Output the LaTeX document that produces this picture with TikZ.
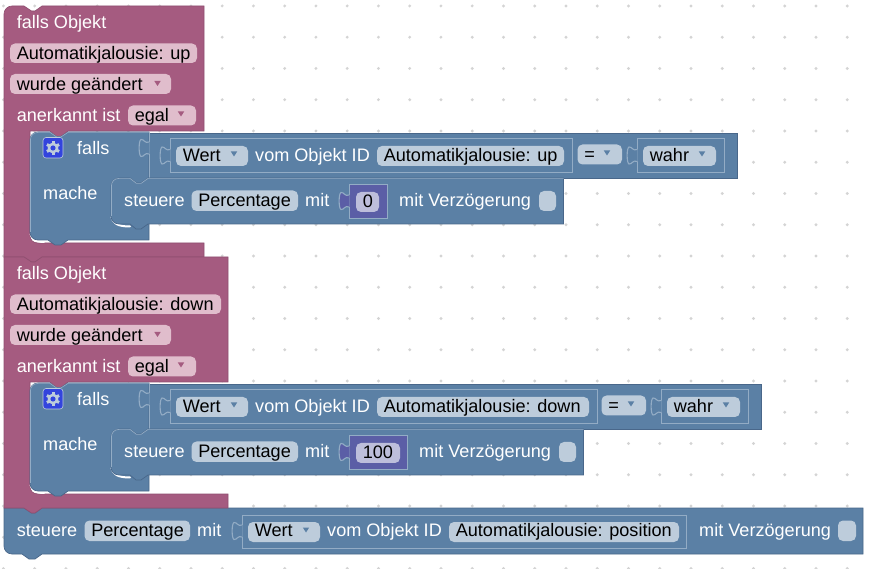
\documentclass[tikz,border=0pt]{standalone}
\usepackage{fontspec}
\setmainfont{Liberation Sans}
\definecolor{pinkB}{HTML}{A55B80}
\definecolor{pinkP}{HTML}{E0BDCC}
\definecolor{pinkE}{HTML}{8F4F70}
\definecolor{blueB}{HTML}{5B80A5}
\definecolor{blueP}{HTML}{BDCCDB}
\definecolor{blueE}{HTML}{49678A}
\definecolor{blueL}{HTML}{93ACC5}
\definecolor{numB}{HTML}{5B5EA6}
\definecolor{numP}{HTML}{BDBEDB}
\definecolor{gearB}{HTML}{3344DD}
\definecolor{dotC}{HTML}{D4D4D4}
\tikzset{
  lbl/.style={anchor=base west,inner sep=0pt,text=white,font=\fontsize{18.1}{20}\selectfont},
  ftxt/.style={anchor=base west,inner sep=0pt,text=black,font=\fontsize{18.1}{20}\selectfont},
  pinkbody/.style={fill=pinkB,draw=pinkE,line width=0.6pt},
  bluebody/.style={fill=blueB,draw=blueE,line width=0.7pt},
  valblock/.style={draw=blueL,fill=blueB,line width=1pt},
  crescent/.style={white,line width=2pt,line cap=round},
  hilite/.style={blueL,line width=0.7pt},
}
% name, x, baseline, text
\newcommand{\Lbl}[4]{\node[lbl] (#1) at (#2,#3) {#4};}
% pill fill, name, x0, x1, y0, y1, baseline, text
\newcommand{\Fld}[8]{\fill[#1,rounded corners=5pt] (#3,#5) rectangle (#4,#6);
  \node[ftxt] (#2) at (#3+6.6,#7) {#8};}
% triangle: colour, cx, cy
\newcommand{\Tri}[3]{\fill[#1] (#2-3.2,#3-2.5) -- (#2+3.2,#3-2.5) -- (#2,#3+2.5) -- cycle;}
% input tab: fill, x, y
\newcommand{\TabIn}[3]{\fill[#1] (#2+0.5,#3+3) .. controls (#2-4,#3+5) and (#2-5,#3) .. (#2-8,#3+0.5) .. controls (#2-10.5,#3+1.5) and (#2-10.5,#3+16.5) .. (#2-8,#3+17.5) .. controls (#2-5,#3+18) and (#2-4,#3+13) .. (#2+0.5,#3+15) -- cycle;
  \draw[blueL,line width=1.1pt] (#2,#3+3) .. controls (#2-4,#3+5) and (#2-5,#3) .. (#2-8,#3+0.5) .. controls (#2-10.5,#3+1.5) and (#2-10.5,#3+16.5) .. (#2-8,#3+17.5) .. controls (#2-5,#3+18) and (#2-4,#3+13) .. (#2,#3+15);}
% pink block: right edge, top-left radius
\newcommand{\PinkBody}[2]{\path[pinkbody]
  (4+#2,6) -- (24,6) -- (31.5,11) -- (35,11) -- (42,6) -- (#1,6) -- (#1,131) -- (68,131) -- (61,136.5) -- (56.5,136.5) -- (50,131) -- (30,131)
  -- (30,235) .. controls (30,240) and (33,243) .. (38,243) -- (#1,243) -- (#1,257) -- (42,257) -- (35,262) -- (31.5,262) -- (24,257) -- (4,257) -- (4,6+#2) .. controls (4,6+0.45*#2) and (4+0.45*#2,6) .. cycle;}
% shared contents of a pink block; #1 = prefix of names
\newcommand{\Shared}[1]{%
  \Lbl{#1fo}{16.6}{28.3}{falls Objekt}
  \Fld{pinkP}{#1wg}{10}{171}{74}{94}{90.5}{wurde geändert}
  \Tri{pinkB}{157.5}{83.5}
  \Lbl{#1an}{16.6}{121.7}{anerkannt ist}
  \Fld{pinkP}{#1eg}{128}{196}{105.5}{125.5}{121.7}{egal}
  \Tri{pinkB}{181}{114}
  % falls block
  \draw[crescent] (30.5,234) .. controls (32,239) and (36,242) .. (44,242);
  \path[bluebody] (38,132) -- (50,132) -- (56.5,136.5) -- (61,136.5) -- (68,132) -- (149,132) -- (149,240) -- (68,240) -- (61,245) -- (55,245) -- (48,240) -- (38,240) .. controls (33,240) and (30,236) .. (30,232) -- (30,140) .. controls (30,136) and (33,132) .. cycle;
  \draw[hilite] (30.4,232) -- (30.4,140) .. controls (30.4,136) and (33,132.4) .. (38,132.4) -- (50,132.4) -- (56.5,136.9) -- (61,136.9) -- (68,132.4) -- (149,132.4);
  \fill[gearB,draw=blueP,line width=0.6pt,rounded corners=3pt] (43,137.5) rectangle (63,158);
  \begin{scope}[shift={(53,148)}]
    \foreach \a in {0,60,...,300}{\draw[blueP,line width=3pt,rotate=\a] (0,0) -- (0,7);}
    \fill[blueP] (0,0) circle (5.4pt);
    \fill[gearB] (0,0) circle (2.6pt);
  \end{scope}
  \Lbl{#1fa}{77}{154.7}{falls}
  \Lbl{#1ma}{43}{199.3}{mache}
}
% steuere row common: right edge
\newcommand{\RowBody}[1]{
  \draw[crescent] (111.5,217) .. controls (113,223) and (117,226.5) .. (130,226.5);
  \path[bluebody] (119,178) -- (130,178) -- (136.5,183) -- (141,183) -- (148,178) -- (#1,178) -- (#1,224) -- (148,224) -- (141,229) -- (136,229) -- (130,224) -- (119,224) .. controls (114,224) and (111,220) .. (111,216) -- (111,186) .. controls (111,182) and (114,178) .. cycle;
  \draw[hilite] (111.4,216) -- (111.4,186) .. controls (111.4,182) and (114,178.4) .. (119,178.4) -- (130,178.4) -- (136.5,183.4) -- (141,183.4) -- (148,178.4) -- (#1,178.4);
}
\begin{document}
\begin{tikzpicture}[x=1pt,y=-1pt]
\useasboundingbox (0,0) rectangle (871,569);
\fill[white] (0,0) rectangle (871,569);
% workspace grid
\foreach \i in {0,...,27}{\foreach \j in {0,...,18}{
  \fill[dotC] ({3.4+31.25*\i},{6+31.25*\j}) circle (1.6pt);}}
% bottom block background
\path[bluebody] (4,508) -- (24,508) -- (31.5,513) -- (35,513) -- (42,508) -- (863,508) -- (863,554) -- (42,554) -- (35,559) -- (29,559) -- (22,554) -- (12,554) .. controls (7,554) and (4,550) .. (4,546) -- cycle;
% ---------- first block
\PinkBody{204}{8}
\Shared{a}
\Fld{pinkP}{aau}{10}{197}{43.5}{63}{59.5}{Automatikjalousie: up}
\path[bluebody] (149,133) rectangle (737,178);
\draw[blueL,line width=0.9pt] (149,133) -- (149,178);
\TabIn{blueB}{149}{139}
\draw[valblock] (170,138.5) rectangle (572,172.5);
\TabIn{blueB}{170}{146.5}
\Fld{blueP}{awe}{176}{248}{146}{166}{161.3}{Wert}
\Tri{blueB}{234}{154}
\Lbl{avo}{255}{161.3}{vom Objekt ID}
\Fld{blueP}{aid}{377}{564}{146}{166}{161.3}{Automatikjalousie: up}
\Fld{blueP}{aeq}{577.5}{622}{144.5}{164.5}{160.5}{=}
\Tri{blueB}{607}{153}
\draw[valblock] (637,138.5) rectangle (724.5,172.5);
\TabIn{blueB}{637}{146.5}
\Fld{blueP}{awa}{643}{716}{146}{166}{161.3}{wahr}
\Tri{blueB}{702}{154}
\RowBody{563.5}
\Lbl{ast}{124}{206.3}{steuere}
\Fld{blueP}{ape}{191.5}{298}{190.5}{211}{206.3}{Percentage}
\Lbl{ami}{305}{206.3}{mit}
\draw[blueL,fill=numB,line width=1pt] (349,185) rectangle (387,219);
\TabIn{numB}{349}{192}
\Fld{numP}{anu}{356}{379}{192}{212}{208}{0}
\Lbl{amv}{399}{206.8}{mit Verzögerung}
\fill[blueP,rounded corners=5pt] (539,191) rectangle (556,211);
% ---------- second block
\begin{scope}[shift={(0,251)}]
\PinkBody{228}{0}
\Shared{b}
\Fld{pinkP}{bau}{10}{221}{43.5}{63}{59.5}{Automatikjalousie: down}
\path[bluebody] (149,133) rectangle (761,178);
\draw[blueL,line width=0.9pt] (149,133) -- (149,178);
\TabIn{blueB}{149}{139}
\draw[valblock] (170,138.5) rectangle (597,172.5);
\TabIn{blueB}{170}{146.5}
\Fld{blueP}{bwe}{176}{248}{146}{166}{161.3}{Wert}
\Tri{blueB}{234}{154}
\Lbl{bvo}{255}{161.3}{vom Objekt ID}
\Fld{blueP}{bid}{377}{589}{146}{166}{161.3}{Automatikjalousie: down}
\Fld{blueP}{beq}{601.5}{646}{144.5}{164.5}{160.5}{=}
\Tri{blueB}{631}{153}
\draw[valblock] (661,138.5) rectangle (748.5,172.5);
\TabIn{blueB}{661}{146.5}
\Fld{blueP}{bwa}{667}{740}{146}{166}{161.3}{wahr}
\Tri{blueB}{726}{154}
\RowBody{583.5}
\Lbl{bst}{124}{206.3}{steuere}
\Fld{blueP}{bpe}{191.5}{298}{190.5}{211}{206.3}{Percentage}
\Lbl{bmi}{305}{206.3}{mit}
\draw[blueL,fill=numB,line width=1pt] (349,185) rectangle (407,219);
\TabIn{numB}{349}{192}
\Fld{numP}{bnu}{356}{400}{192}{212}{208}{100}
\Lbl{bmv}{419}{206.8}{mit Verzögerung}
\fill[blueP,rounded corners=5pt] (559,191) rectangle (576,211);
\end{scope}
% ---------- bottom block contents
\Lbl{cst}{16.6}{536}{steuere}
\Fld{blueP}{cpe}{84.5}{190}{520.5}{541}{536}{Percentage}
\Lbl{cmi}{197}{536}{mit}
\draw[valblock] (242,515.5) rectangle (686.5,548.5);
\TabIn{blueB}{242}{522}
\Fld{blueP}{cwe}{248}{320}{522}{542}{536.5}{Wert}
\Tri{blueB}{306}{530}
\Lbl{cvo}{327}{536.5}{vom Objekt ID}
\Fld{blueP}{cid}{449}{679}{522}{542}{536.5}{Automatikjalousie: position}
\Lbl{cmv}{699}{536.5}{mit Verzögerung}
\fill[blueP,rounded corners=5pt] (838,520.5) rectangle (856,541);
\end{tikzpicture}
\end{document}
